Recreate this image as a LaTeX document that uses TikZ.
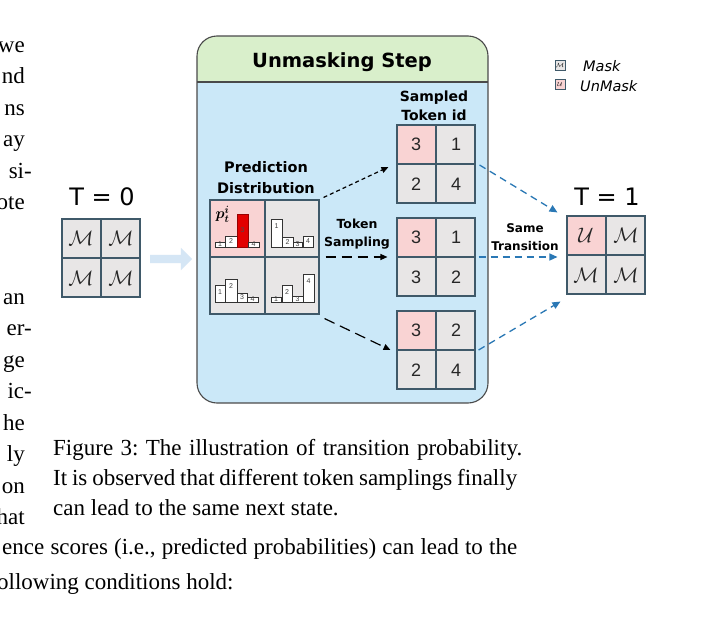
\documentclass[tikz,border=0pt]{standalone}
\usepackage{fix-cm}
\usepackage{bm}
\usepackage{fontspec}
\setmainfont{Liberation Serif}
\newfontfamily\labfont{DejaVu Sans}
\newfontfamily\numfont{Liberation Sans}
\usetikzlibrary{arrows.meta,shapes.arrows}
\frenchspacing

\definecolor{hdrgreen}{HTML}{D9EFCB}
\definecolor{bodyblue}{HTML}{CBE8F8}
\definecolor{cellgray}{HTML}{E8E6E6}
\definecolor{cellpink}{HTML}{F9D3D3}
\definecolor{gridline}{HTML}{3F5969}
\definecolor{tblue}{HTML}{2A78B5}
\definecolor{fatblue}{HTML}{D5E6F5}
\definecolor{barred}{HTML}{E20000}
\definecolor{boxedge}{HTML}{4A4A4A}

\tikzset{
  cellbox/.style={draw=gridline, line width=1pt, fill=cellgray, inner sep=0pt,
    minimum width=39pt, minimum height=39pt,
    font=\numfont\fontsize{18}{18}\selectfont, text=black!85},
  mcell/.style={cellbox, font=\fontsize{21}{21}\selectfont},
  gridframe/.style={draw=gridline, line width=1.1pt, inner sep=0pt,
    minimum width=78pt, minimum height=78pt},
  predcell/.style={draw=gridline, line width=1pt, fill=cellgray, inner sep=0pt,
    minimum width=54.5pt, minimum height=57pt},
  barbox/.style={draw=black!80, line width=0.5pt, fill=white},
  barnum/.style={inner sep=0pt, font=\numfont\fontsize{7}{7}\selectfont, text=black!75},
  lab/.style={inner sep=0pt, align=center, text=black},
  body/.style={inner sep=0pt, font=\fontsize{23}{30}\selectfont, text=black},
  blk/.style={-{Triangle[length=7pt,width=6pt]}, line width=1.2pt, black},
  blu/.style={-{Triangle[length=8pt,width=7pt]}, line width=1.3pt, tblue,
    dash pattern=on 7pt off 5pt},
  legbox/.style={draw=gridline, line width=0.8pt, inner sep=0pt,
    minimum width=10pt, minimum height=10pt, font=\fontsize{6}{6}\selectfont},
  legtext/.style={inner sep=0pt, anchor=west,
    font=\labfont\itshape\fontsize{14.5}{15}\selectfont}
}

% name, center, tl, tr, bl, br, cell style, top-left fill
\newcommand\tokgrid[8]{%
  \node[#7, fill=#8, anchor=south east] (#1a) at (#2) {#3};
  \node[#7, anchor=south west] (#1b) at (#2) {#4};
  \node[#7, anchor=north east] (#1c) at (#2) {#5};
  \node[#7, anchor=north west] (#1d) at (#2) {#6};
  \node[gridframe] (#1) at (#2) {};
}
% name, x0, x1, top, base, label, fill
\newcommand\pbar[7]{%
  \draw[barbox, fill=#7] (#2,#5) rectangle (#3,#4);
  \node[barnum] (#1) at ({(#2+#3)/2},{#4+min(7,(#5-#4)/2)}) {#6};
}

\begin{document}
\begin{tikzpicture}[x=1pt,y=-1pt]
\useasboundingbox (0,0) rectangle (706,632);
\fill[white] (0,0) rectangle (706,632);
\clip (0,0) rectangle (706,632);

% ---------- surrounding page text ----------
\foreach \t/\yy/\xx [count=\k] in {we/52/25, nd/83.5/25, ns/115/25, ay/146.5/25,
    si-/178/32, ote/209.5/25, an/304/25, er-/335.5/32, ge/367/25, ic-/398.5/32,
    he/430/25, ly/461.5/25, on/493/25, hat/524.5/25}
  \node[body, anchor=base east] (frag\k) at (\xx,\yy) {\t};

\node[body, anchor=base west] (cap1) at (53,455)
  {\makebox[469pt][s]{Figure 3: The illustration of transition probability.}};
\node[body, anchor=base west] (cap2) at (53,485)
  {\makebox[464pt][s]{It is observed that different token samplings finally}};
\node[body, anchor=base west] (cap3) at (53,515)
  {can lead to the same next state.};
\node[body, anchor=base west] (txt1) at (2,554)
  {\makebox[515pt][s]{ence scores (i.e., predicted probabilities) can lead to the}};
\node[body, anchor=base west] (txt2) at (-3,589)
  {ollowing conditions hold:};

% ---------- main box ----------
\begin{scope}
  \clip[rounded corners=20pt] (197,36) rectangle (488,403);
  \fill[bodyblue] (197,36) rectangle (488,403);
  \fill[hdrgreen] (197,36) rectangle (488,82);
\end{scope}
\draw[boxedge, line width=1.1pt] (197,82) -- (488,82);
\node[draw=boxedge, line width=1.1pt, rounded corners=20pt, inner sep=0pt,
  minimum width=291pt, minimum height=367pt] (main) at (342.5,219.5) {};

\node[lab, font=\labfont\bfseries\fontsize{19.5}{24}\selectfont] (title) at (342,62) {Unmasking Step};
\node[lab, font=\labfont\bfseries\fontsize{14}{19}\selectfont] (sampled) at (434,106) {Sampled\\Token id};
\node[lab, font=\labfont\bfseries\fontsize{14.5}{21}\selectfont] (predlab) at (266,178) {Prediction\\Distribution};
\node[lab, font=\labfont\bfseries\fontsize{12.5}{18}\selectfont] (toklab) at (357,234) {Token\\Sampling};
\node[lab, font=\labfont\bfseries\fontsize{12}{18}\selectfont] (samelab) at (525,237) {Same\\Transition};

% ---------- T = 0 / T = 1 ----------
\node[lab, font=\labfont\fontsize{24}{24}\selectfont] (t0lab) at (102,197) {T = 0};
\node[lab, font=\labfont\fontsize{24}{24}\selectfont] (t1lab) at (607,197) {T = 1};

\tokgrid{t0}{101,258}{$\mathcal{M}$}{$\mathcal{M}$}{$\mathcal{M}$}{$\mathcal{M}$}{mcell}{cellgray}
\tokgrid{t1}{606,255}{$\mathcal{U}$}{$\mathcal{M}$}{$\mathcal{M}$}{$\mathcal{M}$}{mcell}{cellpink}

% fat arrow
\node[single arrow, fill=fatblue, draw=none, inner sep=4pt, minimum height=42pt,
  minimum width=22pt, single arrow head extend=7pt, single arrow head indent=0pt]
  (fat) at (169,259) {};

% ---------- sampled token grids ----------
\tokgrid{ga}{436,164}{3}{1}{2}{4}{cellbox}{cellpink}
\tokgrid{gb}{436,257}{3}{1}{3}{2}{cellbox}{cellpink}
\tokgrid{gc}{436,350}{3}{2}{2}{4}{cellbox}{cellpink}

% ---------- prediction distribution ----------
\node[predcell, fill=cellpink, anchor=south east] (pa) at (264.5,257) {};
\node[predcell, anchor=south west] (pb) at (264.5,257) {};
\node[predcell, anchor=north east] (pc) at (264.5,257) {};
\node[predcell, anchor=north west] (pd) at (264.5,257) {};
\node[draw=gridline, line width=1.1pt, inner sep=0pt, minimum width=109pt,
  minimum height=114pt] (pred) at (264.5,257) {};

\node[inner sep=0pt, font=\fontsize{15}{15}\selectfont] (plab) at (222.5,214) {$\bm{p_t^i}$};

\pbar{a1}{215}{225}{242}{247}{1}{white}
\pbar{a2}{225}{237}{236}{247}{2}{white}
\draw[barbox, fill=barred, draw=red!60!black] (237,247) rectangle (248,214);
\node[barnum, text=black!70] (a3) at (242.5,230) {3};
\pbar{a4}{248}{259}{242}{247}{4}{white}

\pbar{b1}{271}{282}{219}{247}{1}{white}
\pbar{b2}{282}{293}{237}{247}{2}{white}
\pbar{b3}{293}{302}{242}{247}{3}{white}
\pbar{b4}{303}{313}{236}{247}{4}{white}

\pbar{c1}{215}{225}{285}{302}{1}{white}
\pbar{c2}{225}{237}{279}{302}{2}{white}
\pbar{c3}{237}{247}{293}{302}{3}{white}
\pbar{c4}{247}{258}{297}{302}{4}{white}

\pbar{d1}{271}{281}{297}{302}{1}{white}
\pbar{d2}{282}{292}{285}{302}{2}{white}
\pbar{d3}{292}{303}{296}{302}{3}{white}
\pbar{d4}{303}{314}{274}{302}{4}{white}

% ---------- connectors ----------
\draw[blk, dash pattern=on 4pt off 3pt] ([shift={(4,-2)}]pred.north east) -- ([shift={(-8,3)}]ga.west);
\draw[blk, dash pattern=on 10pt off 6pt] ([shift={(6,0)}]pred.east) -- ([shift={(-9,0)}]gb.west);
\draw[blk, dash pattern=on 11pt off 6pt] ([shift={(5,4)}]pred.south east) -- ([shift={(-6,0)}]gc.west);

\draw[blu] ([shift={(4,1)}]ga.east) -- ([shift={(-9,-3)}]t1.north west);
\draw[blu] ([shift={(3,0)}]gb.east) -- ([shift={(-9,0)}]t1.west |- gb.east);
\draw[blu] ([shift={(3,0)}]gc.east) -- ([shift={(-6,7)}]t1.south west);

% ---------- legend ----------
\node[legbox, fill=cellgray] (legm) at (560,65) {$\mathcal{M}$};
\node[legbox, fill=cellpink] (legu) at (560,84) {$\mathcal{U}$};
\node[legtext] (legmt) at (583,66) {Mask};
\node[legtext] (legut) at (580,86) {UnMask};
\end{tikzpicture}
\end{document}
